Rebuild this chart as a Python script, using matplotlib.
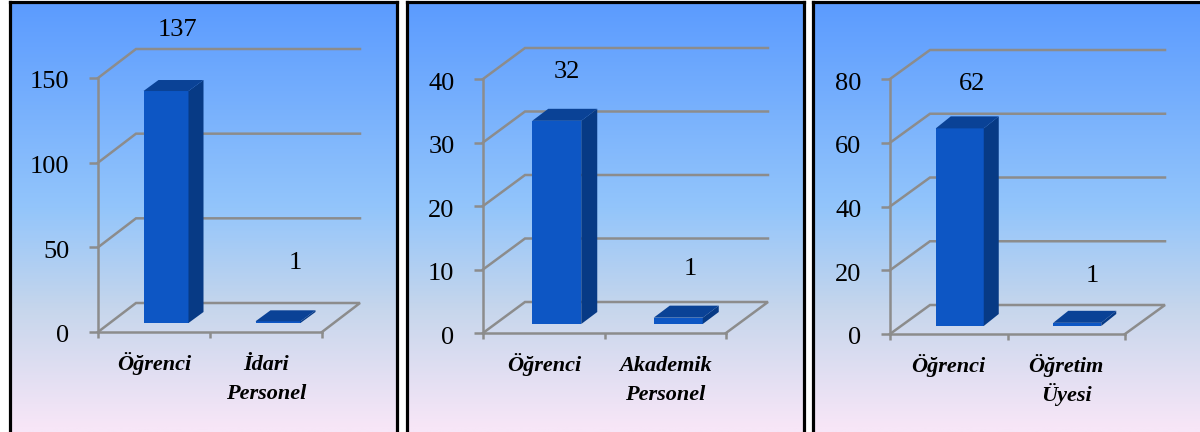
import numpy as np
import matplotlib
matplotlib.use('Agg')
import matplotlib.pyplot as plt
from matplotlib.colors import LinearSegmentedColormap
from matplotlib.transforms import ScaledTranslation

W, H = 1200, 432

categories_1 = ['Öğrenci', 'İdari\nPersonel']
values_1 = [137, 1]
ticks_1 = [0, 50, 100, 150]

categories_2 = ['Öğrenci', 'Akademik\nPersonel']
values_2 = [32, 1]
ticks_2 = [0, 10, 20, 30, 40]

categories_3 = ['Öğrenci', 'Öğretim\nÜyesi']
values_3 = [62, 1]
ticks_3 = [0, 20, 40, 60, 80]

GRAY = '#8c8c8c'
FRONT = '#0d56c4'
SIDE = '#073a85'
TOP = '#0a4296'

plt.rcParams['font.family'] = ['Liberation Serif', 'DejaVu Serif']
bg = LinearSegmentedColormap.from_list('bg', [(0, '#5b9bff'), (0.47, '#93c5fb'), (0.7, '#c6d6ec'),
                                              (0.97, '#f7e6f7'), (1, '#f7e6f7')])

fig = plt.figure(figsize=(W / 100, H / 100), dpi=100)


def px_axes(x0, y0, x1, y1, **kw):
    return fig.add_axes([x0 / W, 1 - y1 / H, (x1 - x0) / W, (y1 - y0) / H], **kw)


def panel(box, plot, cats, vals, ticks, wall, bar_off, bar_w, bar_depth, label_pos):
    # background with black frame
    back = px_axes(*box)
    back.imshow(np.linspace(0, 1, 256).reshape(-1, 1), aspect='auto', cmap=bg, vmin=0, vmax=1)
    back.set_xticks([])
    back.set_yticks([])
    for s in back.spines.values():
        s.set_linewidth(2.3)
        s.set_color('black')

    ax = px_axes(*plot)
    ax.patch.set_alpha(0)
    ax.set_xlim(0, 2)
    ax.set_ylim(0, ticks[-1])
    # pixels to data units
    ux = 2 / (plot[2] - plot[0])
    uy = ticks[-1] / (plot[3] - plot[1])
    dx, dy = wall[0] * ux, wall[1] * uy

    for t in ticks:
        xs = [0, dx, 2 + dx] if t > 0 else [0, dx, 2 + dx, 2]
        ys = [t, t + dy, t + dy] if t > 0 else [0, dy, dy, 0]
        ax.plot(xs, ys, color=GRAY, lw=1.8, clip_on=False, zorder=1, solid_joinstyle='miter')

    ox, oy = bar_off[0] * ux, bar_off[1] * uy
    w = bar_w * ux
    ddx, ddy = bar_depth[0] * ux, bar_depth[1] * uy
    centers = np.array([0.5, 1.5]) + ox
    ax.bar(centers, vals, width=w, bottom=oy, color=FRONT, zorder=3, clip_on=False)
    for c, v in zip(centers, vals):
        l, r = c - w / 2, c + w / 2
        b, t = oy, oy + v
        ax.fill([r, r + ddx, r + ddx, r], [b, b + ddy, t + ddy, t], color=SIDE, lw=0, zorder=3, clip_on=False)
        ax.fill([l, r, r + ddx, l + ddx], [t, t, t + ddy, t + ddy], color=TOP, lw=0, zorder=3, clip_on=False)

    for v, (lx, ly) in zip(vals, label_pos):
        ax.annotate(str(v), xy=(lx, ly), xycoords=fig.transFigure, ha='center', va='center',
                    fontsize=19, color='black', zorder=5, annotation_clip=False)

    ax.set_xticks([0, 1, 2])
    ax.set_xticklabels([])
    ax.set_yticks(ticks)
    ax.set_yticklabels([str(t) for t in ticks], fontsize=19)
    ax.tick_params(axis='y', length=6.5, width=1.8, color=GRAY, pad=14)
    ax.tick_params(axis='x', length=4.5, width=1.8, color=GRAY)
    shift = ScaledTranslation(0, -2 / 100, fig.dpi_scale_trans)
    for lab in ax.get_yticklabels():
        lab.set_transform(lab.get_transform() + shift)
    for n in ('top', 'right'):
        ax.spines[n].set_visible(False)
    for n in ('left', 'bottom'):
        ax.spines[n].set_color(GRAY)
        ax.spines[n].set_linewidth(1.8)
    # two line labels go line by line, the gap must not depend on the glyphs
    for c, name in zip([0.5, 1.5], cats):
        for i, line in enumerate(name.split('\n')):
            ax.annotate(line, xy=(c, 0), xytext=(0, -(38 + 29 * i) * 0.72), textcoords='offset points',
                        ha='center', va='baseline', fontsize=16, style='italic', weight='bold',
                        annotation_clip=False)


panel((10, 2, 397, 440), (98, 78, 322, 332), categories_1, values_1, ticks_1,
      (38, 29), (12, 9), 45, (15, 11), [(177 / W, 1 - 30 / H), (295 / W, 1 - 263 / H)])
panel((407, 2, 804, 440), (483, 79, 726, 333), categories_2, values_2, ticks_2,
      (42, 31), (13, 9), 49, (16, 12), [(567 / W, 1 - 72 / H), (690 / W, 1 - 269 / H)])
panel((813, 2, 1205, 440), (890, 79, 1125, 334), categories_3, values_3, ticks_3,
      (40, 29), (11, 8), 48, (15, 12), [(972 / W, 1 - 84 / H), (1092 / W, 1 - 276 / H)])

fig.savefig('out.png', dpi=100)
